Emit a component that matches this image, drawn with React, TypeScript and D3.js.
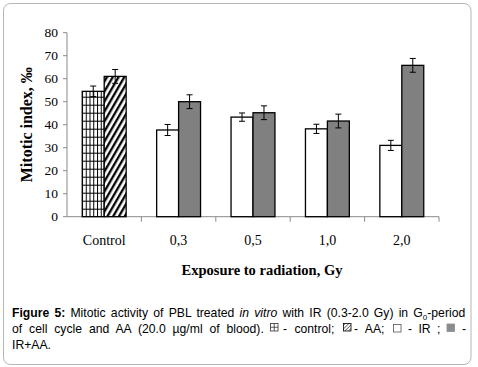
import React from "react";
import * as d3 from "d3";

const categories = ["Control", "0,3", "0,5", "1,0", "2,0"];
const seriesA = [54.5, 37.7, 43.3, 38.2, 31.0];
const seriesAErr = [2.3, 2.4, 1.8, 2.0, 2.2];
const seriesB = [61.0, 50.0, 45.2, 41.6, 65.8];
const seriesBErr = [3.0, 3.0, 3.0, 3.0, 3.0];
const yTicks = [0, 10, 20, 30, 40, 50, 60, 70, 80];

const W = 478, H = 367;
const L = 67, R = 439, T = 32.7, B = 216.7;

export default function App() {
  const x = d3.scaleBand<string>().domain(categories).range([L, R]).paddingInner(0.41).paddingOuter(0.205);
  const sub = d3.scaleBand<string>().domain(["a", "b"]).range([0, x.bandwidth()]);
  const y = d3.scaleLinear().domain([0, 80]).range([B, T]);
  const step = x.step();
  const serif = "'Liberation Serif', 'Times New Roman', serif";
  const sans = "'Liberation Sans', Arial, sans-serif";

  const fillA = (i: number) => (i === 0 ? "url(#gridPat)" : "#ffffff");
  const fillB = (i: number) => (i === 0 ? "url(#hatchPat)" : "#808080");

  const bars: React.ReactNode[] = [];
  categories.forEach((c, i) => {
    const x0 = x(c)!;
    const items = [
      { k: "a", v: seriesA[i], e: seriesAErr[i], f: fillA(i) },
      { k: "b", v: seriesB[i], e: seriesBErr[i], f: fillB(i) },
    ];
    items.forEach((it) => {
      const bx = x0 + sub(it.k)!;
      const bw = sub.bandwidth();
      const cx = bx + bw / 2;
      bars.push(
        <g key={c + it.k}>
          <rect x={bx} y={y(it.v)} width={bw} height={B - y(it.v)} fill={it.f} stroke="#000" strokeWidth={1.3} />
          <line x1={cx} x2={cx} y1={y(it.v + it.e)} y2={y(it.v - it.e)} stroke="#000" strokeWidth={1} />
          <line x1={cx - 3} x2={cx + 3} y1={y(it.v + it.e)} y2={y(it.v + it.e)} stroke="#000" strokeWidth={1} />
          <line x1={cx - 3} x2={cx + 3} y1={y(it.v - it.e)} y2={y(it.v - it.e)} stroke="#000" strokeWidth={1} />
        </g>
      );
    });
  });

  const axisColor = "#8a8a8a";
  const capY1 = 317, capY2 = 333, capY3 = 349;
  const fs = 12.2;

  return (
    <svg width={W} height={H} style={{ position: "absolute", left: 0, top: 0, background: "#fff" }}>
      <defs>
        <pattern id="gridPat" patternUnits="userSpaceOnUse" width={3.75} height={8} x={L} y={B}>
          <rect width={3.75} height={8} fill="#fff" />
          <line x1={0.5} y1={0} x2={0.5} y2={8} stroke="#000" strokeWidth={1} />
          <line x1={0} y1={0.5} x2={3.75} y2={0.5} stroke="#000" strokeWidth={1} />
        </pattern>
        <pattern id="hatchPat" patternUnits="userSpaceOnUse" width={5} height={5} patternTransform="rotate(30)">
          <rect width={5} height={5} fill="#fff" />
          <line x1={1.2} y1={0} x2={1.2} y2={5} stroke="#000" strokeWidth={2.3} />
        </pattern>
        <pattern id="hatchPatSm" patternUnits="userSpaceOnUse" width={2.5} height={2.5} patternTransform="rotate(45)">
          <line x1={0} y1={0} x2={0} y2={2.5} stroke="#000" strokeWidth={1} />
        </pattern>
      </defs>
      <rect x={3.5} y={3.5} width={467.5} height={361} rx={7} fill="#fff" stroke="#b5b5b5" strokeWidth={1} />

      {/* y axis */}
      <line x1={L} x2={L} y1={T} y2={B} stroke={axisColor} />
      {yTicks.map((t) => (
        <g key={t}>
          <line x1={L - 4} x2={L} y1={y(t)} y2={y(t)} stroke={axisColor} />
          <text x={L - 9} y={y(t)} dy="0.35em" textAnchor="end" fontFamily={serif} fontSize={13.5} fill="#000">
            {t}
          </text>
        </g>
      ))}
      {/* x axis */}
      <line x1={L} x2={R} y1={B} y2={B} stroke={axisColor} />
      {categories.map((c, i) => (
        <line key={"t" + c} x1={L + step * (i + 1)} x2={L + step * (i + 1)} y1={B} y2={B + 5} stroke={axisColor} />
      ))}
      {categories.map((c) => (
        <text key={"l" + c} x={x(c)! + x.bandwidth() / 2} y={245} textAnchor="middle" fontFamily={serif} fontSize={14} fill="#000">
          {c}
        </text>
      ))}

      {bars}

      <text transform={`translate(32,${(T + B) / 2}) rotate(-90)`} textAnchor="middle" fontFamily={serif} fontWeight="bold" fontSize={16} fill="#000">
        Mitotic index, ‰
      </text>
      <text x={262} y={275} textAnchor="middle" fontFamily={serif} fontWeight="bold" fontSize={14.5} fill="#000">
        Exposure to radiation, Gy
      </text>

      {/* caption */}
      <text x={12} y={capY1} fontFamily={sans} fontSize={fs} fill="#000" wordSpacing={1.8}>
        <tspan fontWeight="bold">Figure 5:</tspan>
        <tspan> Mitotic activity of PBL treated </tspan>
        <tspan fontStyle="italic">in vitro</tspan>
        <tspan> with IR (0.3-2.0 Gy) in G</tspan>
        <tspan fontSize={8} dy={3}>0</tspan>
        <tspan dy={-3}>-period</tspan>
      </text>
      <text x={12} y={capY2} fontFamily={sans} fontSize={fs} fill="#000" wordSpacing={3.5}>
        of cell cycle and AA (20.0 µg/ml of blood).
      </text>
      <g stroke="#333" strokeWidth={0.8} fill="none">
        <rect x={270.5} y={capY2 - 9.5} width={7.5} height={7.5} fill="#fff" />
        <line x1={274.25} x2={274.25} y1={capY2 - 9.5} y2={capY2 - 2} />
        <line x1={270.5} x2={278} y1={capY2 - 5.75} y2={capY2 - 5.75} />
      </g>
      <text x={283} y={capY2} fontFamily={sans} fontSize={fs} fill="#000" wordSpacing={4}>- control;</text>
      <rect x={343.5} y={capY2 - 9.5} width={7.5} height={7.5} fill="url(#hatchPatSm)" stroke="#000" strokeWidth={0.8} />
      <text x={354} y={capY2} fontFamily={sans} fontSize={fs} fill="#000" wordSpacing={4}>- AA;</text>
      <rect x={393.5} y={capY2 - 8.5} width={7.5} height={7.5} fill="#fff" stroke="#555" strokeWidth={0.8} />
      <text x={408} y={capY2} fontFamily={sans} fontSize={fs} fill="#000" wordSpacing={3}>- IR ;</text>
      <rect x={447} y={capY2 - 9} width={7.5} height={7.5} fill="#8c8c8c" stroke="#8c8c8c" strokeWidth={0.8} />
      <text x={462} y={capY2} fontFamily={sans} fontSize={fs} fill="#000">-</text>
      <text x={12} y={capY3} fontFamily={sans} fontSize={fs} fill="#000">IR+AA.</text>
    </svg>
  );
}
